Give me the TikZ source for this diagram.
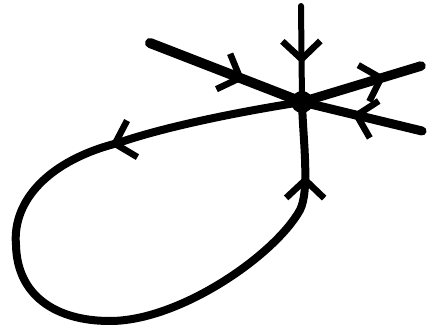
\documentclass[tikz,border=0pt]{standalone}
\usetikzlibrary{arrows.meta,decorations.markings}
\tikzset{
  traj/.style={line width=#1,line cap=round,line join=round,black},
  hbarb/.tip={Straight Barb[length=18pt,width=38pt,line width=6.5pt]},
  barb/.style={postaction={decorate},decoration={markings,
               mark=at position #1 with {\arrow{hbarb}}}},
  fixpt/.style={circle,fill=black,inner sep=0pt,minimum size=22pt},
}
\begin{document}
\begin{tikzpicture}[x=1pt,y=-1pt]
  \useasboundingbox (0,0) rectangle (431,324);

  \node[fixpt] (P) at (302,102) {};

  \coordinate (TOP) at (301,6);
  \coordinate (UL)  at (150,43);
  \coordinate (UR)  at (421,66);
  \coordinate (LR)  at (422,131);

  \draw[traj=6pt,barb=0.6]    (TOP) -- (P.center);
  \draw[traj=10pt,barb=0.62]  (UL)  -- (P.center);
  \draw[traj=9.5pt,barb=0.7]  (P.center) -- (UR);
  \draw[traj=9pt,barb=0.58]   (LR)  -- (P.center);

  \draw[traj=8pt,postaction={decorate},decoration={markings,
        mark=at position 0.24 with {\arrow{hbarb}},
        mark=at position 0.91 with {\arrow{hbarb}}}]
    (P.center) .. controls (250,110) and (170,125) .. (118,143)
    .. controls (50,160) and (12,200) .. (16,245)
    .. controls (17,295) and (55,321) .. (110,321)
    .. controls (180,321) and (275,255) .. (300,210)
    .. controls (310,190) and (303,140) .. (P.center);
\end{tikzpicture}
\end{document}
